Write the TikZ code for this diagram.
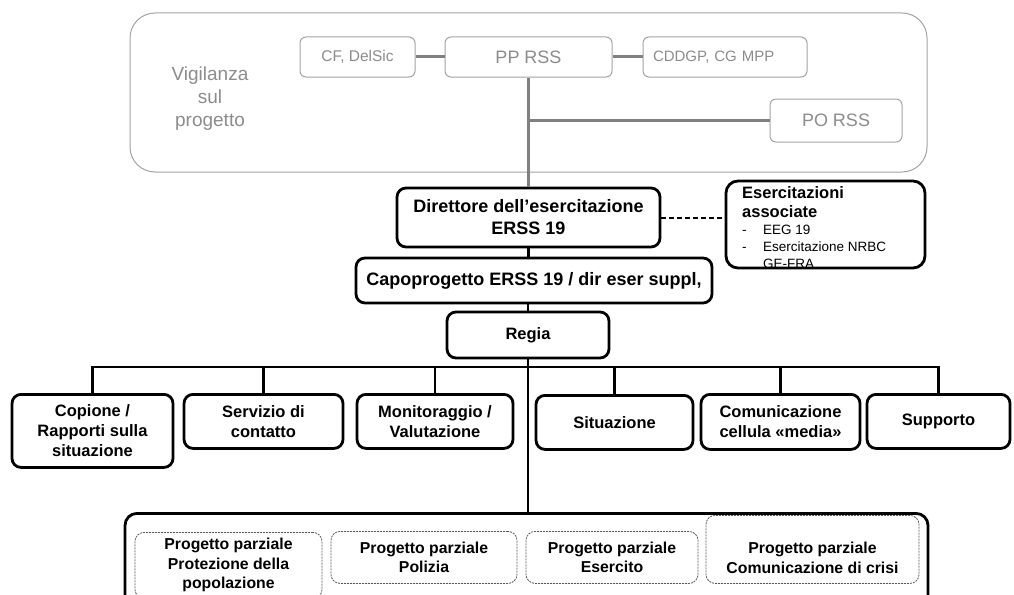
\documentclass[tikz,border=0pt]{standalone}
\usepackage{fontspec}
\setmainfont{Liberation Sans}
\usetikzlibrary{positioning}
\definecolor{frame}{HTML}{A3A3A3}
\definecolor{soft}{HTML}{8C8C8C}
\definecolor{wiregray}{HTML}{808080}
\definecolor{dashink}{HTML}{5A5A5A}
\newcommand{\pxsize}[2]{\fontsize{#1}{#2}\selectfont}

\begin{document}
\begin{tikzpicture}[x=1pt,y=-1pt,
    softbox/.style={draw=frame,line width=1pt,rounded corners=6pt,text=soft,inner sep=1pt},
    softwire/.style={draw=wiregray,line width=3pt},
    orgbox/.style={draw=black,line width=2.8pt,rounded corners=9pt,align=center,inner sep=1pt,
      font=\bfseries\pxsize{18}{22}},
    unitbox/.style={orgbox,anchor=north,font=\bfseries\pxsize{16.5}{20}},
    partbox/.style={draw=dashink,line width=0.8pt,dash pattern=on 2pt off 1pt,rounded corners=9pt,
      align=center,inner sep=1pt,anchor=north,font=\bfseries\pxsize{15.8}{19.5}},
    wire/.style={draw=black,line width=2.8pt},
    assocwire/.style={draw=black,line width=2pt,dash pattern=on 5pt off 3pt}]
    \useasboundingbox (0,0) rectangle (1014,594);
    \fill[white] (0,0) rectangle (1014,594);
    \clip (0,0) rectangle (1014,594);

    % project supervision, all in grey
    \draw[draw=frame,line width=1pt,rounded corners=25pt] (130,13) rectangle (927,172);
    \node[text=soft,align=center,font=\pxsize{19}{23}] (vigil) at (210,99) {Vigilanza\\sul\\progetto};
    \node[softbox,minimum width=115,minimum height=40,font=\pxsize{15.5}{18}] (cf) at (357.5,57) {CF, DelSic};
    \node[softbox,minimum width=167,minimum height=40,font=\pxsize{18}{21}] (pp) at (528.5,57) {PP RSS};
    \node[softbox,minimum height=40,inner xsep=10pt,text width=144pt,align=left,
      font=\pxsize{15}{18}] (cddgp) at (725,57) {CDDGP, CG MPP};
    \node[softbox,minimum width=132,minimum height=43,font=\pxsize{18}{21}] (po) at (836,120.5) {PO RSS};
    \draw[softwire] (cf) -- (pp);
    \draw[softwire] (pp) -- (cddgp);
    \draw[softwire] (pp.south |- po.west) -- (po.west);

    % exercise direction
    \node[orgbox,minimum width=263,minimum height=59] (dir) at (528.5,217.5)
      {Direttore dell’esercitazione\\ERSS 19};
    \draw[softwire] (pp.south) -- (dir.north);
    \node[draw=black,line width=2.8pt,rounded corners=12pt,minimum width=199,minimum height=87]
      (assoc) at (825.5,224.5) {};
    \node[anchor=north west,align=left,inner sep=0pt,font=\pxsize{13.5}{17}] (assoclist) at (742,186)
      {{\bfseries\pxsize{16.5}{17}Esercitazioni}\\[2pt]
       {\bfseries\pxsize{16.5}{17}associate}\\
       \makebox[21pt][l]{-}EEG 19\\
       \makebox[21pt][l]{-}Esercitazione NRBC\\
       \hspace*{21pt}GE-FRA};
    \draw[assocwire] (dir.east) -- (dir.east -| assoc.west);
    \node[orgbox,minimum width=356,minimum height=45] (capo) at (534,280.5)
      {Capoprogetto ERSS 19 / dir eser suppl,};
    \draw[wire] (dir.south) -- (dir.south |- capo.north);
    \node[orgbox,minimum width=162,minimum height=46,font=\bfseries\pxsize{16.5}{20}] (regia) at (528,335) {Regia};
    \draw[wire] (capo.south -| regia.north) -- (regia.north);

    % the six cells under the direction
    \coordinate (bus) at (528,367);
    \node[unitbox,minimum width=161,minimum height=73] (copione) at (92.5,393)
      {Copione /\\Rapporti sulla\\situazione};
    \node[unitbox,minimum width=159,minimum height=54] (servizio) at (263.5,393) {Servizio di\\contatto};
    \node[unitbox,minimum width=156,minimum height=54] (monitor) at (435,393) {Monitoraggio /\\Valutazione};
    \node[unitbox,minimum width=157,minimum height=54] (situaz) at (614.5,394) {Situazione};
    \node[unitbox,minimum width=159,minimum height=55] (comunic) at (780.5,393)
      {Comunicazione\\cellula «media»};
    \node[unitbox,minimum width=143,minimum height=54] (supporto) at (938.5,393) {Supporto};
    \draw[wire] (copione.north) |- (supporto.north |- bus) -- (supporto.north);
    \foreach \u in {servizio,monitor,situaz,comunic}{
      \draw[wire] (bus -| \u.north) -- (\u.north);}

    % partial projects
    \node[draw=black,line width=2.8pt,rounded corners=12pt,minimum width=803,minimum height=100,anchor=north]
      (parts) at (526.5,512) {};
    \draw[wire] (regia.south) -- (regia.south |- parts.north);
    \node[partbox,minimum width=187,minimum height=66] (prot) at (228.5,532)
      {Progetto parziale\\Protezione della\\popolazione};
    \node[partbox,minimum width=186,minimum height=52] (poliz) at (424,531) {Progetto parziale\\Polizia};
    \node[partbox,minimum width=172,minimum height=52] (eserc) at (612,531) {Progetto parziale\\Esercito};
    \node[partbox,minimum width=213,minimum height=68,text height=48pt,text depth=0pt] (crisi) at (812.5,515)
      {Progetto parziale\\Comunicazione di crisi};
\end{tikzpicture}
\end{document}
